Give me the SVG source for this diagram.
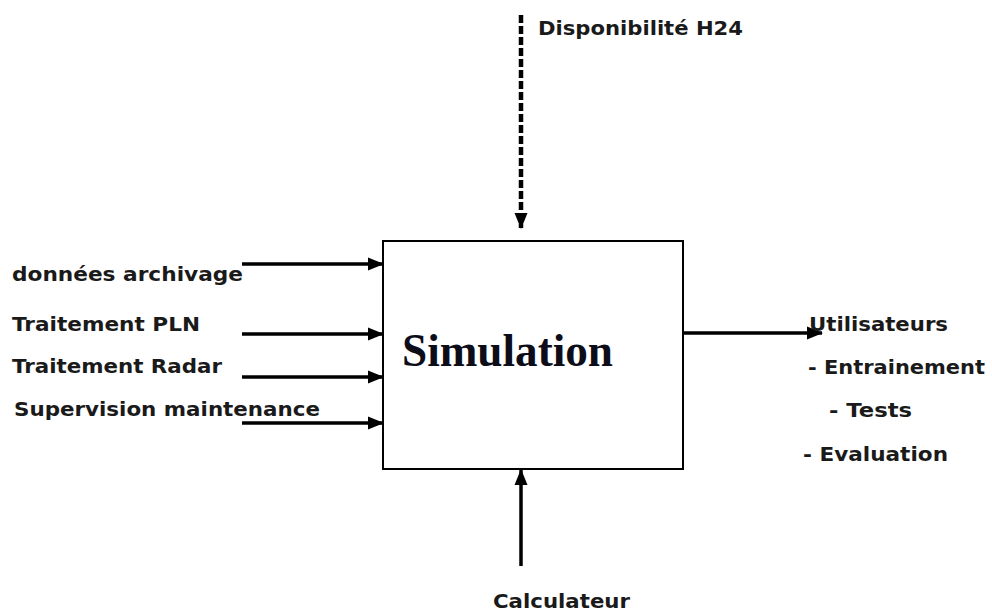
<svg xmlns="http://www.w3.org/2000/svg" width="992" height="614" viewBox="0 0 992 614">
<style>
.lbl{font-family:"DejaVu Sans","Liberation Sans",sans-serif;font-weight:bold;font-size:19px;fill:#1a1a1a}
.title{font-family:"Liberation Serif","Times New Roman",serif;font-weight:bold;font-size:47px;fill:#0d0d1a}
.conn{stroke:#000;stroke-width:3.5;fill:none}
.dash{stroke:#000;stroke-width:4.5;fill:none;stroke-dasharray:8 3}
.box{fill:#fff;stroke:#000;stroke-width:2}
</style>
<defs>
<marker id="ah" markerUnits="userSpaceOnUse" markerWidth="16" markerHeight="16" viewBox="0 0 16 16" refX="15" refY="8" orient="auto">
<path d="M0,1.5 L16,8 L0,14.5 Z" fill="#000"/>
</marker>
</defs>
<rect width="992" height="614" fill="#fff"/>
<g id="simulation">
<rect class="box" x="383" y="241" width="300" height="228"/>
<text class="title" x="402" y="366" textLength="211" lengthAdjust="spacingAndGlyphs">Simulation</text>
</g>
<g id="connectors">
<line class="dash" x1="521" y1="15" x2="521" y2="228" marker-end="url(#ah)"/>
<line class="conn" x1="242" y1="264" x2="383" y2="264" marker-end="url(#ah)"/>
<line class="conn" x1="242" y1="334" x2="383" y2="334" marker-end="url(#ah)"/>
<line class="conn" x1="242" y1="377" x2="383" y2="377" marker-end="url(#ah)"/>
<line class="conn" x1="242" y1="423" x2="383" y2="423" marker-end="url(#ah)"/>
<line class="conn" x1="683" y1="333" x2="822" y2="333" marker-end="url(#ah)"/>
<line class="conn" x1="521" y1="566" x2="521" y2="470" marker-end="url(#ah)"/>
</g>
<g id="disponibilite"><text class="lbl" x="538" y="35" textLength="205" lengthAdjust="spacingAndGlyphs">Disponibilité H24</text></g>
<g id="donnees"><text class="lbl" x="12" y="281" textLength="231" lengthAdjust="spacingAndGlyphs">données archivage</text></g>
<g id="pln"><text class="lbl" x="12" y="331" textLength="188" lengthAdjust="spacingAndGlyphs">Traitement PLN</text></g>
<g id="radar"><text class="lbl" x="12" y="373" textLength="210" lengthAdjust="spacingAndGlyphs">Traitement Radar</text></g>
<g id="supervision"><text class="lbl" x="14" y="416" textLength="306" lengthAdjust="spacingAndGlyphs">Supervision maintenance</text></g>
<g id="utilisateurs">
<text class="lbl" x="809" y="331" textLength="139" lengthAdjust="spacingAndGlyphs">Utilisateurs</text>
<text class="lbl" x="808" y="374" textLength="177" lengthAdjust="spacingAndGlyphs">- Entrainement</text>
<text class="lbl" x="829" y="417" textLength="83" lengthAdjust="spacingAndGlyphs">- Tests</text>
<text class="lbl" x="803" y="461" textLength="145" lengthAdjust="spacingAndGlyphs">- Evaluation</text>
</g>
<g id="calculateur"><text class="lbl" x="493" y="608" textLength="137" lengthAdjust="spacingAndGlyphs">Calculateur</text></g>
</svg>
